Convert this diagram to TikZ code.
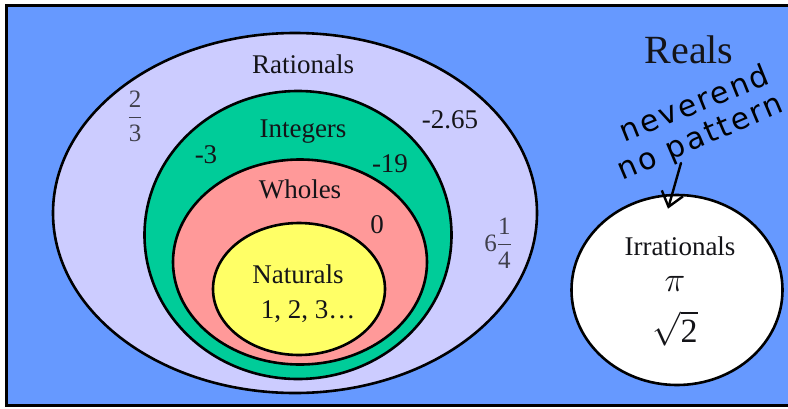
\RequirePackage{fix-cm}
\documentclass[tikz,border=0pt]{standalone}
\usepackage{amsmath}
\usepackage{fontspec}
\setmainfont{Liberation Serif}
\newfontfamily\handfont[LetterSpace=8]{DejaVu Sans}
\usetikzlibrary{arrows.meta, shapes.geometric}
\definecolor{realsblue}{RGB}{102, 153, 255}
\definecolor{ratlilac}{RGB}{204, 204, 255}
\definecolor{intgreen}{RGB}{0, 204, 153}
\definecolor{wholepink}{RGB}{255, 153, 153}
\definecolor{natyellow}{RGB}{255, 255, 102}
\definecolor{inkdark}{RGB}{20, 20, 24}
\definecolor{inkgray}{RGB}{64, 64, 76}

\begin{document}
\begin{tikzpicture}[
    x=1pt, y=-1pt,
    set/.style={ellipse, draw=black, line width=2.6pt, inner sep=0pt},
    lbl/.style={anchor=base, text=inkdark, font=\fontsize{27}{30}\selectfont},
    frac/.style={text=inkgray, font=\fontsize{25}{29}\selectfont},
    hand/.style={anchor=base, font=\handfont\fontsize{30}{34}\selectfont, text=black},
]
    \useasboundingbox (0,0) rectangle (788,408);
    % --- frame: the reals ---
    \draw[line width=3pt, fill=realsblue] (6.5,5) rectangle (800,405.5);
    \node[lbl, font=\fontsize{40}{44}\selectfont] (realsname) at (689,63) {Reals};

    % --- LEFT: nested sets ---
    \node[set, fill=ratlilac, minimum width=484pt, minimum height=360pt] (rat) at (295,213) {};
    \node[set, fill=intgreen, minimum width=307pt, minimum height=288pt] (int) at (298,235) {};
    \node[set, fill=wholepink, minimum width=254pt, minimum height=205pt] (whole) at (300,262) {};
    \node[set, fill=natyellow, minimum width=172pt, minimum height=132pt] (nat) at (299,289) {};

    \node[lbl] (ratname) at (303,73) {Rationals};
    \node[frac] (twothirds) at (135,116) {$\dfrac{\text{2}}{\text{3}}$};
    \node[lbl] (negdec) at (450,128) {-2.65};
    \node[frac] (mixed) at (498,243) {6$\dfrac{\text{1}}{\text{4}}$};
    \node[lbl] (intname) at (303,137) {Integers};
    \node[lbl] (negthree) at (206,163) {-3};
    \node[lbl] (negnineteen) at (390,172) {-19};
    \node[lbl] (wholename) at (300,198) {Wholes};
    \node[lbl] (zero) at (377,233) {0};
    \node[lbl] (natname) at (298,283) {Naturals};
    \node[lbl] (natnums) at (308,318) {1, 2, 3\ldots};

    % --- RIGHT: irrationals ---
    \node[set, fill=white, minimum width=211pt, minimum height=190pt] (irr) at (677,290) {};
    \node[lbl] (irrname) at (680,255) {Irrationals};
    \node[lbl, font=\fontsize{35}{40}\selectfont] (pi) at (675,291) {$\pi$};
    \node[lbl, font=\fontsize{34}{38}\selectfont] (root) at (675,342) {$\sqrt{\text{2}}$};

    % handwritten note
    \node[hand, rotate=22] (note1) at (698,113) {neverend};
    \node[hand, rotate=23] (note2) at (704,146) {no pattern};
    \coordinate (notetail) at (681,163);
    \draw[-{Straight Barb[length=14pt, width=22pt]}, line width=2.4pt, line cap=round] (notetail) -- ([shift={(-9,15)}]irr.north);
\end{tikzpicture}
\end{document}
